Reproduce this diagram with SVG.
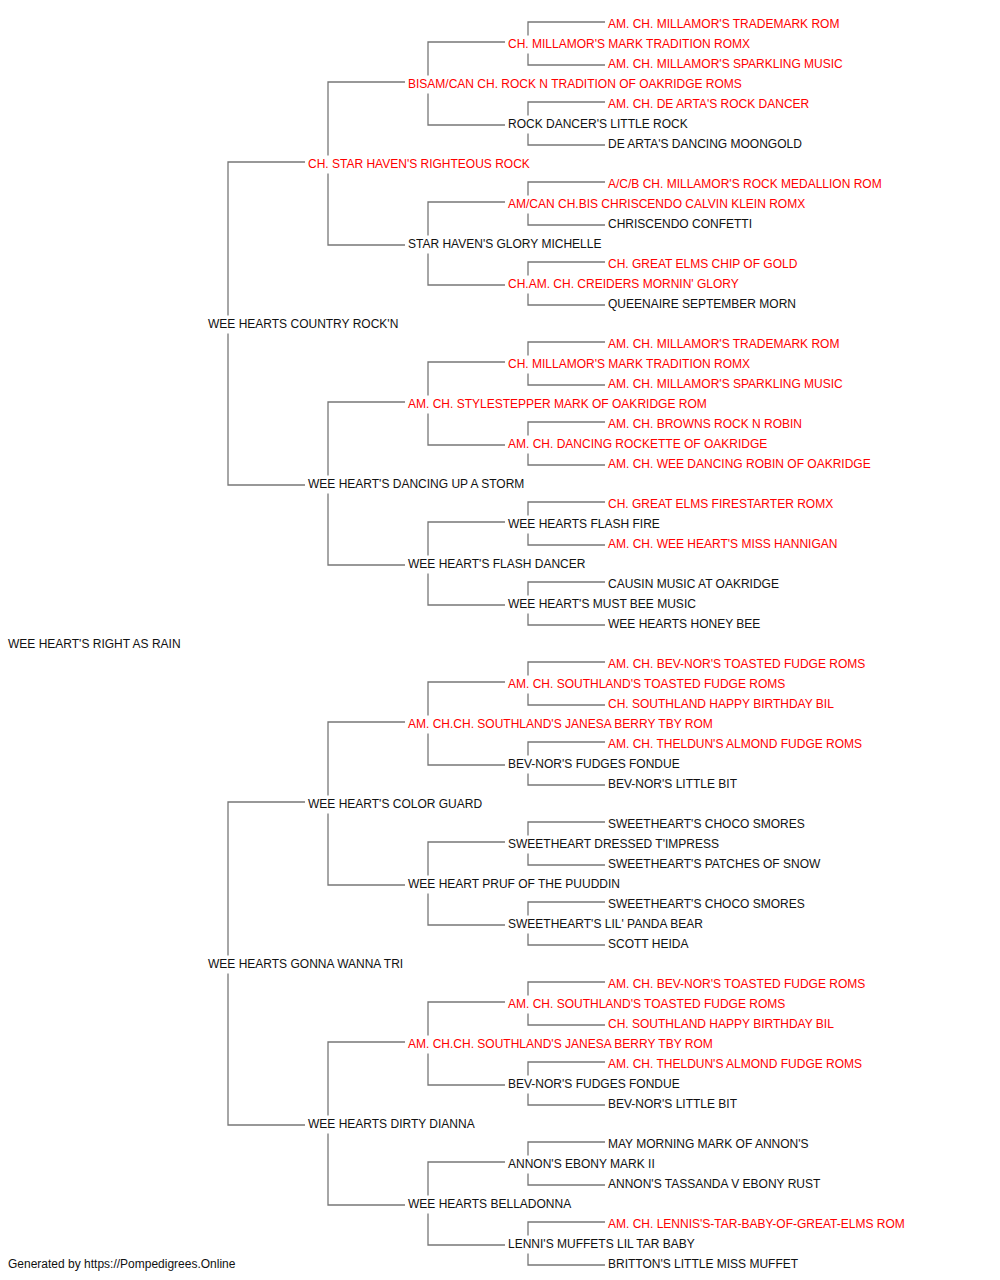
<svg xmlns="http://www.w3.org/2000/svg" width="1000" height="1280" viewBox="0 0 1000 1280">
<style>
text{font-family:"Liberation Sans",Arial,sans-serif;font-size:12px}
.r{fill:#ff0000}
.k{fill:#111111}
.c path{fill:none;stroke:#777777;stroke-width:1.3}
</style>
<rect width="1000" height="1280" fill="#ffffff"/>
<g class="c" id="connectors">
<path d="M305 162H228V315.5M228 333.5V485H305"/>
<path d="M305 802H228V955.5M228 973.5V1125H305"/>
<path d="M405 82H328V155.5M328 173.5V245H405"/>
<path d="M405 402H328V475.5M328 493.5V565H405"/>
<path d="M405 722H328V795.5M328 813.5V885H405"/>
<path d="M405 1042H328V1115.5M328 1133.5V1205H405"/>
<path d="M505 42H428V75.5M428 93.5V125H505"/>
<path d="M505 202H428V235.5M428 253.5V285H505"/>
<path d="M505 362H428V395.5M428 413.5V445H505"/>
<path d="M505 522H428V555.5M428 573.5V605H505"/>
<path d="M505 682H428V715.5M428 733.5V765H505"/>
<path d="M505 842H428V875.5M428 893.5V925H505"/>
<path d="M505 1002H428V1035.5M428 1053.5V1085H505"/>
<path d="M505 1162H428V1195.5M428 1213.5V1245H505"/>
<path d="M605 22H528V35.5M528 53.5V65H605"/>
<path d="M605 102H528V115.5M528 133.5V145H605"/>
<path d="M605 182H528V195.5M528 213.5V225H605"/>
<path d="M605 262H528V275.5M528 293.5V305H605"/>
<path d="M605 342H528V355.5M528 373.5V385H605"/>
<path d="M605 422H528V435.5M528 453.5V465H605"/>
<path d="M605 502H528V515.5M528 533.5V545H605"/>
<path d="M605 582H528V595.5M528 613.5V625H605"/>
<path d="M605 662H528V675.5M528 693.5V705H605"/>
<path d="M605 742H528V755.5M528 773.5V785H605"/>
<path d="M605 822H528V835.5M528 853.5V865H605"/>
<path d="M605 902H528V915.5M528 933.5V945H605"/>
<path d="M605 982H528V995.5M528 1013.5V1025H605"/>
<path d="M605 1062H528V1075.5M528 1093.5V1105H605"/>
<path d="M605 1142H528V1155.5M528 1173.5V1185H605"/>
<path d="M605 1222H528V1235.5M528 1253.5V1265H605"/>
</g>
<g id="n0"><text class="r" x="608" y="28">AM. CH. MILLAMOR'S TRADEMARK ROM</text></g>
<g id="n1"><text class="r" x="508" y="48">CH. MILLAMOR'S MARK TRADITION ROMX</text></g>
<g id="n2"><text class="r" x="608" y="68">AM. CH. MILLAMOR'S SPARKLING MUSIC</text></g>
<g id="n3"><text class="r" x="408" y="88">BISAM/CAN CH. ROCK N TRADITION OF OAKRIDGE ROMS</text></g>
<g id="n4"><text class="r" x="608" y="108">AM. CH. DE ARTA'S ROCK DANCER</text></g>
<g id="n5"><text class="k" x="508" y="128">ROCK DANCER'S LITTLE ROCK</text></g>
<g id="n6"><text class="k" x="608" y="148">DE ARTA'S DANCING MOONGOLD</text></g>
<g id="n7"><text class="r" x="308" y="168">CH. STAR HAVEN'S RIGHTEOUS ROCK</text></g>
<g id="n8"><text class="r" x="608" y="188">A/C/B CH. MILLAMOR'S ROCK MEDALLION ROM</text></g>
<g id="n9"><text class="r" x="508" y="208">AM/CAN CH.BIS CHRISCENDO CALVIN KLEIN ROMX</text></g>
<g id="n10"><text class="k" x="608" y="228">CHRISCENDO CONFETTI</text></g>
<g id="n11"><text class="k" x="408" y="248">STAR HAVEN'S GLORY MICHELLE</text></g>
<g id="n12"><text class="r" x="608" y="268">CH. GREAT ELMS CHIP OF GOLD</text></g>
<g id="n13"><text class="r" x="508" y="288">CH.AM. CH. CREIDERS MORNIN' GLORY</text></g>
<g id="n14"><text class="k" x="608" y="308">QUEENAIRE SEPTEMBER MORN</text></g>
<g id="n15"><text class="k" x="208" y="328">WEE HEARTS COUNTRY ROCK'N</text></g>
<g id="n16"><text class="r" x="608" y="348">AM. CH. MILLAMOR'S TRADEMARK ROM</text></g>
<g id="n17"><text class="r" x="508" y="368">CH. MILLAMOR'S MARK TRADITION ROMX</text></g>
<g id="n18"><text class="r" x="608" y="388">AM. CH. MILLAMOR'S SPARKLING MUSIC</text></g>
<g id="n19"><text class="r" x="408" y="408">AM. CH. STYLESTEPPER MARK OF OAKRIDGE ROM</text></g>
<g id="n20"><text class="r" x="608" y="428">AM. CH. BROWNS ROCK N ROBIN</text></g>
<g id="n21"><text class="r" x="508" y="448">AM. CH. DANCING ROCKETTE OF OAKRIDGE</text></g>
<g id="n22"><text class="r" x="608" y="468">AM. CH. WEE DANCING ROBIN OF OAKRIDGE</text></g>
<g id="n23"><text class="k" x="308" y="488">WEE HEART'S DANCING UP A STORM</text></g>
<g id="n24"><text class="r" x="608" y="508">CH. GREAT ELMS FIRESTARTER ROMX</text></g>
<g id="n25"><text class="k" x="508" y="528">WEE HEARTS FLASH FIRE</text></g>
<g id="n26"><text class="r" x="608" y="548">AM. CH. WEE HEART'S MISS HANNIGAN</text></g>
<g id="n27"><text class="k" x="408" y="568">WEE HEART'S FLASH DANCER</text></g>
<g id="n28"><text class="k" x="608" y="588">CAUSIN MUSIC AT OAKRIDGE</text></g>
<g id="n29"><text class="k" x="508" y="608">WEE HEART'S MUST BEE MUSIC</text></g>
<g id="n30"><text class="k" x="608" y="628">WEE HEARTS HONEY BEE</text></g>
<g id="n31"><text class="k" x="8" y="648">WEE HEART'S RIGHT AS RAIN</text></g>
<g id="n32"><text class="r" x="608" y="668">AM. CH. BEV-NOR'S TOASTED FUDGE ROMS</text></g>
<g id="n33"><text class="r" x="508" y="688">AM. CH. SOUTHLAND'S TOASTED FUDGE ROMS</text></g>
<g id="n34"><text class="r" x="608" y="708">CH. SOUTHLAND HAPPY BIRTHDAY BIL</text></g>
<g id="n35"><text class="r" x="408" y="728">AM. CH.CH. SOUTHLAND'S JANESA BERRY TBY ROM</text></g>
<g id="n36"><text class="r" x="608" y="748">AM. CH. THELDUN'S ALMOND FUDGE ROMS</text></g>
<g id="n37"><text class="k" x="508" y="768">BEV-NOR'S FUDGES FONDUE</text></g>
<g id="n38"><text class="k" x="608" y="788">BEV-NOR'S LITTLE BIT</text></g>
<g id="n39"><text class="k" x="308" y="808">WEE HEART'S COLOR GUARD</text></g>
<g id="n40"><text class="k" x="608" y="828">SWEETHEART'S CHOCO SMORES</text></g>
<g id="n41"><text class="k" x="508" y="848">SWEETHEART DRESSED T'IMPRESS</text></g>
<g id="n42"><text class="k" x="608" y="868">SWEETHEART'S PATCHES OF SNOW</text></g>
<g id="n43"><text class="k" x="408" y="888">WEE HEART PRUF OF THE PUUDDIN</text></g>
<g id="n44"><text class="k" x="608" y="908">SWEETHEART'S CHOCO SMORES</text></g>
<g id="n45"><text class="k" x="508" y="928">SWEETHEART'S LIL' PANDA BEAR</text></g>
<g id="n46"><text class="k" x="608" y="948">SCOTT HEIDA</text></g>
<g id="n47"><text class="k" x="208" y="968">WEE HEARTS GONNA WANNA TRI</text></g>
<g id="n48"><text class="r" x="608" y="988">AM. CH. BEV-NOR'S TOASTED FUDGE ROMS</text></g>
<g id="n49"><text class="r" x="508" y="1008">AM. CH. SOUTHLAND'S TOASTED FUDGE ROMS</text></g>
<g id="n50"><text class="r" x="608" y="1028">CH. SOUTHLAND HAPPY BIRTHDAY BIL</text></g>
<g id="n51"><text class="r" x="408" y="1048">AM. CH.CH. SOUTHLAND'S JANESA BERRY TBY ROM</text></g>
<g id="n52"><text class="r" x="608" y="1068">AM. CH. THELDUN'S ALMOND FUDGE ROMS</text></g>
<g id="n53"><text class="k" x="508" y="1088">BEV-NOR'S FUDGES FONDUE</text></g>
<g id="n54"><text class="k" x="608" y="1108">BEV-NOR'S LITTLE BIT</text></g>
<g id="n55"><text class="k" x="308" y="1128">WEE HEARTS DIRTY DIANNA</text></g>
<g id="n56"><text class="k" x="608" y="1148">MAY MORNING MARK OF ANNON'S</text></g>
<g id="n57"><text class="k" x="508" y="1168">ANNON'S EBONY MARK II</text></g>
<g id="n58"><text class="k" x="608" y="1188">ANNON'S TASSANDA V EBONY RUST</text></g>
<g id="n59"><text class="k" x="408" y="1208">WEE HEARTS BELLADONNA</text></g>
<g id="n60"><text class="r" x="608" y="1228">AM. CH. LENNIS'S-TAR-BABY-OF-GREAT-ELMS ROM</text></g>
<g id="n61"><text class="k" x="508" y="1248">LENNI'S MUFFETS LIL TAR BABY</text></g>
<g id="n62"><text class="k" x="608" y="1268">BRITTON'S LITTLE MISS MUFFET</text></g>
<g id="footer"><text class="k" x="8" y="1268">Generated by https://Pompedigrees.Online</text></g>
</svg>
